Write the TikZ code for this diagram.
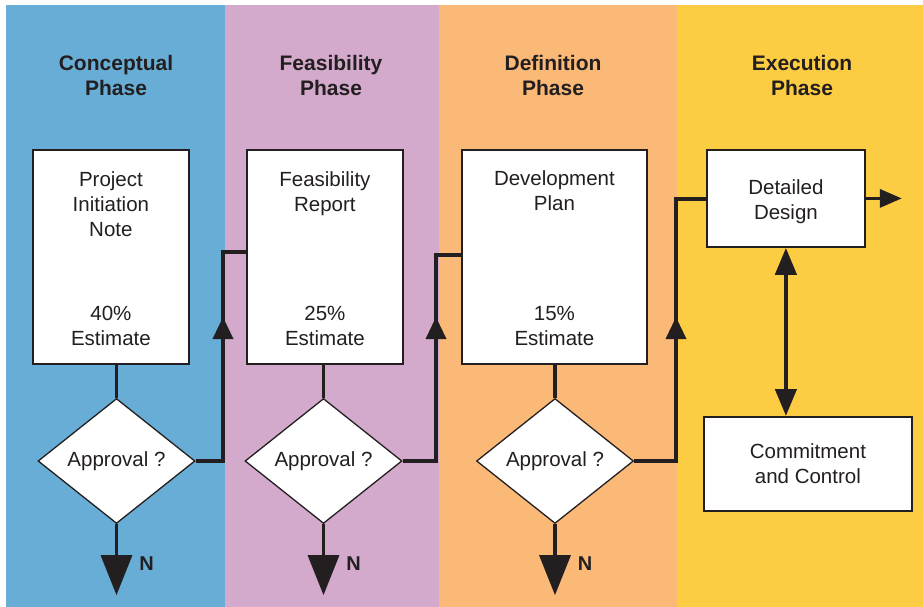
\documentclass[tikz,border=0pt]{standalone}
\usepackage{fontspec}
\setmainfont{Liberation Sans}
\usepackage{xcolor}
\usetikzlibrary{shapes.geometric,arrows.meta,positioning,calc}

\definecolor{conceptblue}{HTML}{68ADD6}
\definecolor{feasmauve}{HTML}{D3AACB}
\definecolor{defnorange}{HTML}{FAB977}
\definecolor{execyellow}{HTML}{FCCC42}
\definecolor{ink}{HTML}{231F20}

\begin{document}
\begin{tikzpicture}[
  x=1pt, y=-1pt,
  font=\fontsize{20.5}{25}\selectfont,
  lane/.style ={inner sep=0, minimum height=602, anchor=north west},
  phase/.style={font=\fontsize{21}{25}\selectfont\bfseries, text=ink, align=center, inner sep=0},
  doc/.style  ={draw=ink, line width=1.8pt, fill=white, inner sep=0, anchor=north west,
                text=ink, align=center},
  txt/.style  ={text=ink, align=center, inner sep=0},
  dec/.style  ={draw=ink, line width=1.3pt, fill=white, diamond, aspect=1.26, inner sep=0,
                minimum width=157, minimum height=125, text=ink},
  flow/.style ={draw=ink, line width=3.5pt},
  uptip/.style={flow, -{Triangle[length=22pt,width=20pt]}},
  notip/.style={flow, -{Triangle[length=40pt,width=31pt]}},
  nlbl/.style ={font=\fontsize{20}{24}\selectfont\bfseries, text=ink, inner sep=0}]

\useasboundingbox (0,0) rectangle (923,607);

%---------------- Lanes ----------------
\node[lane, fill=conceptblue, minimum width=219] (laneA) at (6,5) {};
\node[lane, fill=feasmauve,   minimum width=214] (laneB) at (225,5) {};
\node[lane, fill=defnorange,  minimum width=238] (laneC) at (439,5) {};
\node[lane, fill=execyellow,  minimum width=246] (laneD) at (677,5) {};

\node[phase] (tA) at (116,75.5) {Conceptual\\Phase};
\node[phase] (tB) at (331,75.5) {Feasibility\\Phase};
\node[phase] (tC) at (553,75.5) {Definition\\Phase};
\node[phase] (tD) at (802,75.5) {Execution\\Phase};

%---------------- Documents ----------------
\node[doc, minimum width=156, minimum height=214] (b1) at (32,149) {};
\node[txt, anchor=north] (b1a) at ($(b1.north)+(0,22)$) {Project\\Initiation\\Note};
\node[txt, anchor=north] (b1b) at ($(b1.south)+(0,-59)$) {40\%\\Estimate};

\node[doc, minimum width=156, minimum height=214] (b2) at (246,149) {};
\node[txt, anchor=north] (b2a) at ($(b2.north)+(0,22)$) {Feasibility\\Report};
\node[txt, anchor=north] (b2b) at ($(b2.south)+(0,-59)$) {25\%\\Estimate};

\node[doc, minimum width=185, minimum height=214] (b3) at (461,149) {};
\node[txt, anchor=north] (b3a) at ($(b3.north)+(0,21)$) {Development\\Plan};
\node[txt, anchor=north] (b3b) at ($(b3.south)+(0,-59)$) {15\%\\Estimate};

\node[doc, minimum width=158, minimum height=97] (dd) at (706,149) {};
\node[txt, anchor=north] (dda) at ($(dd.north)+(0,30)$) {Detailed\\Design};
\node[doc, minimum width=208, minimum height=94] (cc) at (703,416) {Commitment\\and Control};

%---------------- Approvals ----------------
\node[dec] (d1) at (116.5,461) {Approval ?};
\node[dec] (d2) at (323.5,461) {Approval ?};
\node[dec] (d3) at (555,461)   {Approval ?};

\draw[flow] (b1.south -| d1.north) -- (d1.north);
\draw[flow] (b2.south -| d2.north) -- (d2.north);
\draw[flow] (b3.south -| d3.north) -- (d3.north);

% rejected: straight down
\draw[notip] (d1.south) -- ++(0,71);
\draw[notip] (d2.south) -- ++(0,71);
\draw[notip] (d3.south) -- ++(0,71);
\node[nlbl] (n1) at ($(d1.south)+(30,39)$) {N};
\node[nlbl] (n2) at ($(d2.south)+(30,39)$) {N};
\node[nlbl] (n3) at ($(d3.south)+(30,39)$) {N};

% approved: up the lane border into the next phase
\coordinate (j1) at (223,252);
\coordinate (j2) at (436,255);
\coordinate (j3) at (676,199);
\draw[flow] (d1.east) -| (j1) -- (j1 -| b2.west);
\draw[flow] (d2.east) -| (j2) -- (j2 -| b3.west);
\draw[flow] (d3.east) -| (j3) -- (j3 -| dd.west);
\draw[uptip] (j1 |- d1.east) -- ++(0,-144);
\draw[uptip] (j2 |- d2.east) -- ++(0,-144);
\draw[uptip] (j3 |- d3.east) -- ++(0,-144);

%---------------- Execution ----------------
\draw[flow, -{Triangle[length=22pt,width=18pt]}] (dd.east) -- ++(36,0);
\draw[flow, line width=4.5pt, {Triangle[length=27pt,width=21pt]}-{Triangle[length=27pt,width=21pt]}]
  (dd.south) -- (dd.south |- cc.north);

\end{tikzpicture}
\end{document}
